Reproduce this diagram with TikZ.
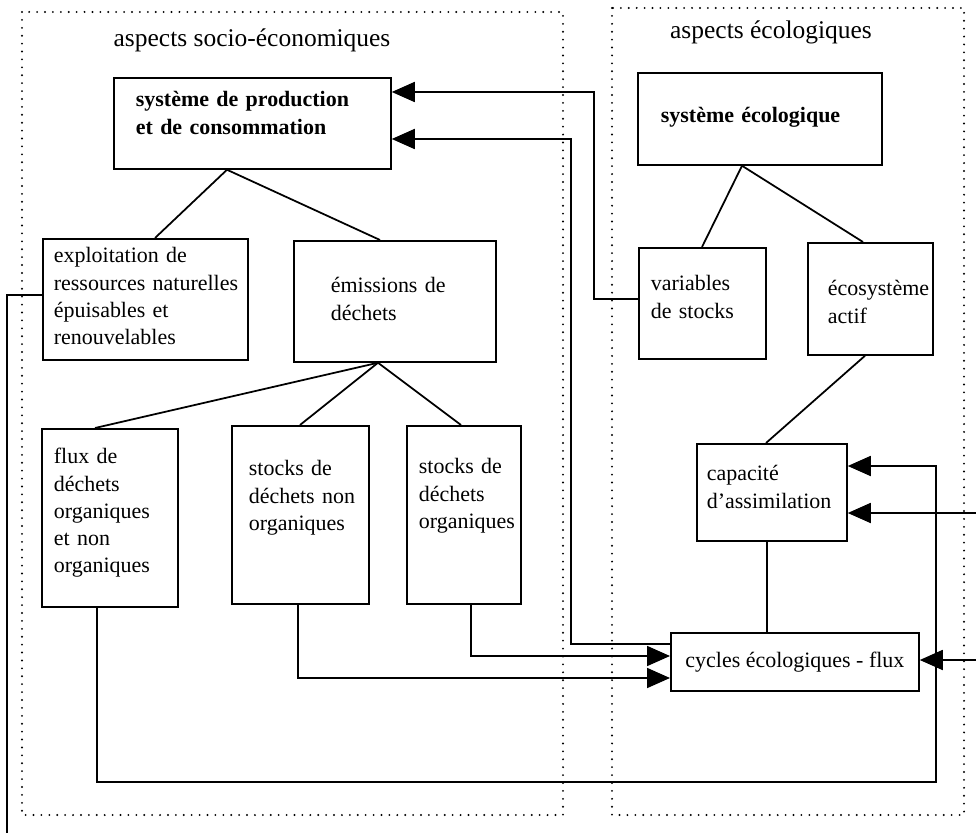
\documentclass[tikz,border=0pt]{standalone}
\usepackage{fontspec}
\setmainfont{Liberation Serif}
\usepackage{tikz}
\usetikzlibrary{arrows.meta,calc,positioning}
\hyphenpenalty=10000
\exhyphenpenalty=10000

\begin{document}
\begin{tikzpicture}[x=0.2mm,y=-0.2mm,
  font=\fontsize{12.5}{15.5}\selectfont,
  boite/.style={draw,line width=1pt,anchor=north west,align=left,inner ysep=0pt},
  gras/.style={font=\fontsize{12.5}{16}\selectfont\bfseries},
  lien/.style={line width=1pt},
  fleche/.style={line width=1pt,-{Triangle[length=4.6mm,width=4mm]}},
  cadre/.style={line width=1.2pt,line cap=round,dash pattern=on 0pt off 4.5pt},
  titre/.style={font=\fontsize{14.5}{17}\selectfont}]
\path[use as bounding box] (0,0) rectangle (976,833);
\fill[white] (0,0) rectangle (976,833);

% les deux cadres
\draw[cadre] (22,12) rectangle (563,815);
\draw[cadre] (612,8) rectangle (964,815);
\node[titre] (tsocio) at (252,40) {aspects socio-économiques};
\node[titre] (teco) at (771,32) {aspects écologiques};

% aspects socio-économiques
\node[boite,gras,inner xsep=4.4mm,text width=46.6mm,text height=5.8mm,text depth=12.4mm]
  (prod) at (113,77) {système~de~production\\et de consommation};
\node[boite,inner xsep=2.2mm,text width=36.6mm,text height=4.8mm,text depth=19.4mm]
  (exploit) at (42,238) {exploitation de\\ressources~naturelles\\épuisables et\\renouvelables};
\node[boite,inner xsep=7.4mm,text width=25.6mm,text height=10.4mm,text depth=13.8mm]
  (emiss) at (293,240) {émissions de\\déchets};
\node[boite,inner xsep=2.4mm,text width=22.4mm,text height=7mm,text depth=28.6mm]
  (flux) at (41,428) {flux de\\déchets\\organiques\\et non\\organiques};
\node[boite,inner xsep=3.4mm,text width=20.6mm,text height=10mm,text depth=25.6mm]
  (stockNO) at (231,425) {stocks~de\\déchets~non\\organiques};
\node[boite,inner xsep=2.4mm,text width=18mm,text height=9.6mm,text depth=26mm]
  (stockO) at (406,425) {stocks~de\\déchets\\organiques};

% aspects écologiques
\node[boite,gras,inner xsep=4.6mm,text width=39.6mm,text height=10mm,text depth=8.4mm]
  (syseco) at (637,72) {système~écologique};
\node[boite,inner xsep=2.4mm,text width=20.6mm,text height=8.6mm,text depth=13.6mm]
  (vars) at (638,247) {variables\\de~stocks};
\node[boite,inner xsep=4mm,text width=17mm,text height=10.6mm,text depth=11.8mm]
  (ecoactif) at (807,242) {écosystème\\actif};
\node[boite,inner xsep=2mm,text width=26mm,text height=7.4mm,text depth=12mm]
  (capa) at (696,443) {capacité\\d'assimilation};
\node[boite,inner xsep=0pt,minimum width=49.6mm,minimum height=11.6mm]
  (cycles) at (670,632) {cycles écologiques - flux};

% arborescences
\draw[lien] ($(prod.south west)+(114,0)$) -- ($(exploit.north west)+(113,0)$);
\draw[lien] ($(prod.south west)+(114,0)$) -- ($(emiss.north west)+(87,0)$);
\draw[lien] ($(emiss.south west)+(85,0)$) -- ($(flux.north west)+(54,0)$);
\draw[lien] ($(emiss.south west)+(85,0)$) -- ($(stockNO.north west)+(69,0)$);
\draw[lien] ($(emiss.south west)+(85,0)$) -- ($(stockO.north west)+(55,0)$);
\draw[lien] ($(syseco.south west)+(105,0)$) -- ($(vars.north west)+(64,0)$);
\draw[lien] ($(syseco.south west)+(105,0)$) -- ($(ecoactif.north west)+(56,0)$);
\draw[lien] ($(ecoactif.south west)+(58,0)$) -- ($(capa.north west)+(70,0)$);
\draw[lien] ($(capa.south west)+(71,0)$) coordinate (cb) -- (cb |- cycles.north);

% flèches
\draw[fleche] ($(vars.north west)+(0,52)$) -- ++(-44,0) |- ($(prod.north east)+(0,15)$);
\draw[fleche] ($(cycles.north west)+(0,12)$) -- ++(-99,0) |- ($(prod.north east)+(0,62)$);
\draw[fleche] ($(stockO.south west)+(65,0)$) |- ($(cycles.north west)+(0,24)$);
\draw[fleche] ($(stockNO.south west)+(67,0)$) |- ($(cycles.north west)+(0,46)$);
\coordinate (coin) at (936,782);
\draw[fleche] ($(flux.south west)+(56,0)$) |- (coin) |- ($(capa.north east)+(0,23)$);
\coordinate (entreeA) at (976,513);
\draw[fleche] (entreeA) -- (entreeA -| capa.east);
\coordinate (entreeB) at (976,660);
\draw[fleche] (entreeB) -- (entreeB -| cycles.east);
\coordinate (sortie) at (7,833);
\draw[lien] ($(exploit.north west)+(0,57)$) -| (sortie);
\end{tikzpicture}
\end{document}
